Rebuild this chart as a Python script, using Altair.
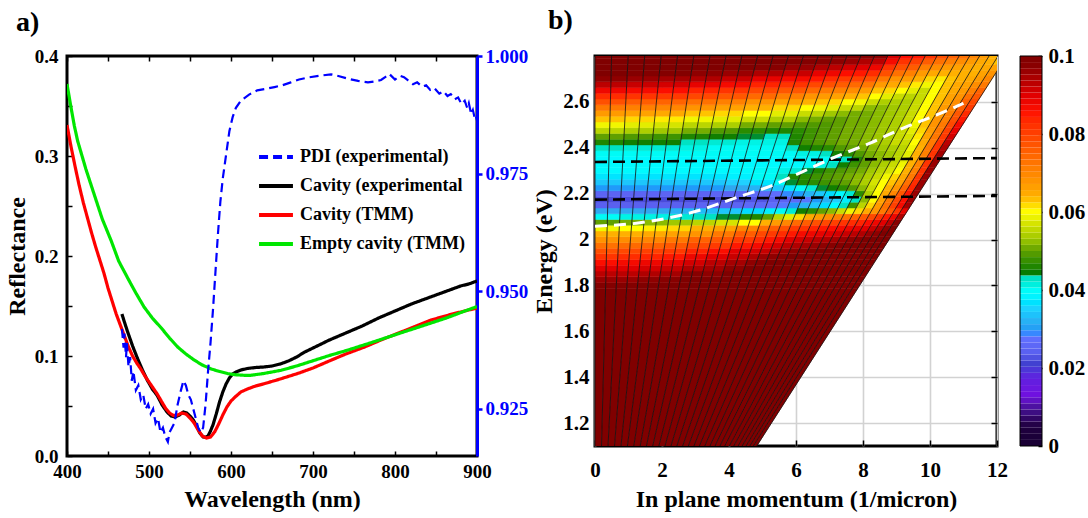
import math
import altair as alt
import pandas as pd

FONT = "Liberation Serif"

# ---------------- panel a) data ----------------
SERIES = ["PDI (experimental)", "Cavity (experimental", "Cavity (TMM)", "Empty cavity (TMM)"]
SERIES_COLORS = ["#0000FF", "#000000", "#FF0000", "#00E600"]

pdi_wl = [467, 469, 470, 472, 473, 475, 477, 479, 481, 484, 487, 490, 493, 496, 499, 502, 505, 508, 511, 514,
          517, 520, 523, 525, 528, 531, 535, 539, 542, 545, 548, 551, 554, 557, 560, 563, 566, 569, 572, 575,
          578, 581, 584, 587, 590, 594, 598, 602, 606, 612, 622, 632, 642, 653, 663, 673, 683, 693, 708, 722,
          732, 742, 755, 767, 775, 783, 788, 793, 800, 806, 811, 816, 822, 827, 833, 838, 843, 848, 854, 859,
          864, 868, 873, 877, 881, 885, 888, 890, 893, 895, 897, 898, 900]
pdi_val = [0.942, 0.938, 0.941, 0.936, 0.939, 0.934, 0.936, 0.931, 0.933, 0.929, 0.930, 0.927, 0.928, 0.925,
           0.926, 0.924, 0.925, 0.922, 0.923, 0.920, 0.921, 0.919, 0.918, 0.920, 0.921, 0.922, 0.926, 0.929,
           0.931, 0.930, 0.928, 0.927, 0.925, 0.923, 0.921, 0.920, 0.921, 0.926, 0.933, 0.939, 0.946, 0.954,
           0.962, 0.969, 0.974, 0.979, 0.984, 0.987, 0.989, 0.9905, 0.9918, 0.9927, 0.9930, 0.9934, 0.9938,
           0.9944, 0.9950, 0.9954, 0.9958, 0.9961, 0.9957, 0.9952, 0.9947, 0.9944, 0.9946, 0.9949, 0.9955,
           0.9962, 0.9950, 0.9958, 0.9955, 0.9948, 0.9940, 0.9944, 0.9935, 0.9938, 0.9928, 0.9932, 0.9920,
           0.9925, 0.9915, 0.9919, 0.9908, 0.9912, 0.9898, 0.9905, 0.9890, 0.9900, 0.9876, 0.9885, 0.9870,
           0.9875, 0.9863]

cav_exp_wl = [467, 470, 474, 480, 486, 492, 498, 504, 510, 516, 522, 527, 532, 537, 542, 546, 550, 554, 558, 562,
              566, 569, 572, 575, 578, 582, 586, 590, 594, 598, 602, 606, 612, 620, 630, 640, 650, 660, 670, 680,
              690, 700, 720, 740, 760, 780, 800, 820, 840, 860, 880, 890, 900]
cav_exp_r = [0.142, 0.134, 0.124, 0.110, 0.0975, 0.086, 0.0757, 0.067, 0.0606, 0.051, 0.044, 0.040, 0.039, 0.041,
             0.044, 0.043, 0.040, 0.036, 0.030, 0.023, 0.019, 0.0188, 0.020, 0.025, 0.031, 0.042, 0.054, 0.064,
             0.072, 0.078, 0.082, 0.084, 0.086, 0.0875, 0.0885, 0.089, 0.090, 0.092, 0.095, 0.099, 0.104, 0.108,
             0.116, 0.123, 0.130, 0.138, 0.145, 0.152, 0.158, 0.164, 0.170, 0.172, 0.175]

cav_tmm_wl = [400, 405, 410, 415, 420, 425, 430, 435, 440, 445, 450, 455, 460, 465, 470, 475, 480, 485, 490, 495,
              500, 505, 510, 515, 520, 525, 530, 535, 540, 545, 550, 555, 560, 565, 570, 575, 580, 585, 590, 595,
              600, 605, 612, 620, 630, 641, 660, 681, 700, 722, 740, 763, 780, 803, 820, 844, 870, 900]
cav_tmm_r = [0.331, 0.309, 0.289, 0.270, 0.253, 0.238, 0.223, 0.209, 0.196, 0.183, 0.168, 0.155, 0.142, 0.131,
             0.120, 0.109, 0.100, 0.093, 0.087, 0.080, 0.074, 0.068, 0.062, 0.055, 0.048, 0.043, 0.0405, 0.041,
             0.043, 0.042, 0.038, 0.033, 0.026, 0.020, 0.018, 0.019, 0.024, 0.032, 0.041, 0.049, 0.055, 0.059,
             0.064, 0.067, 0.070, 0.0724, 0.077, 0.0824, 0.088, 0.0958, 0.102, 0.109, 0.115, 0.1226, 0.128,
             0.136, 0.142, 0.148]

empty_wl = [400, 405, 409, 413, 423, 433, 443, 454, 463, 474, 484, 494, 504, 515, 525, 535, 545, 555, 565, 576,
            586, 596, 606, 616, 624, 640, 661, 680, 702, 720, 742, 762, 783, 803, 824, 844, 864, 882, 900]
empty_r = [0.372, 0.348, 0.330, 0.315, 0.287, 0.262, 0.237, 0.215, 0.195, 0.178, 0.163, 0.149, 0.138, 0.128,
           0.118, 0.109, 0.102, 0.096, 0.091, 0.087, 0.0845, 0.0824, 0.0812, 0.0807, 0.0807, 0.0825, 0.0857,
           0.090, 0.0958, 0.1005, 0.1058, 0.111, 0.1166, 0.122, 0.1276, 0.133, 0.1384, 0.144, 0.1494]

# ---------------- panel b) data ----------------
HC = 0.19733                      # hbar*c in eV*micron (angle -> in-plane momentum)
ANGLES = list(range(0, 61, 2))    # constant-angle mesh lines, degrees
E_ROWS = [round(1.80 + 0.025 * i, 4) for i in range(41)]   # row centres, eV
E_MIN, E_MAX = 1.1, 2.8

# reflectance read per angle column (rows = E_ROWS)
P00 = [.099,.096,.093,.090,.086,.082,.078,.073,.068,.064,.059,.050,.040, .031,.024,.022,.025,.030,.034,.037,.039,.039,.039,.040,.043, .046,.050,.055,.059,.063,.067,.072,.078,.083,.088,.093,.097,.1,.1,.1,.1]
P01 = [.099,.096,.093,.090,.087,.083,.079,.074,.069,.064,.060,.051,.041, .031,.024,.022,.025,.030,.034,.037,.039,.039,.039,.040,.042, .045,.049,.054,.058,.062,.066,.071,.076,.082,.087,.092,.096,.099,.1,.1,.1]
P02 = [.1,.097,.094,.091,.088,.084,.080,.075,.070,.065,.061,.052,.041, .031,.024,.022,.025,.030,.034,.037,.039,.039,.039,.040,.042, .045,.048,.053,.057,.061,.065,.070,.075,.081,.086,.091,.095,.099,.1,.1,.1]
P03 = [.1,.098,.095,.092,.089,.085,.081,.077,.072,.066,.062,.053,.042, .032,.024,.022,.025,.030,.034,.037,.039,.039,.039,.040,.041, .043,.046,.051,.055,.059,.063,.068,.073,.079,.084,.089,.094,.097,.1,.1,.1]
P04 = [.1,.1,.098,.094,.091,.088,.084,.079,.075,.068,.064,.055,.043, .033,.025,.022,.025,.030,.034,.037,.039,.039,.039,.040,.040, .042,.045,.049,.054,.058,.062,.066,.071,.077,.082,.087,.092,.096,.099,.1,.1]
P05 = [.1,.1,.097,.095,.093,.090,.086,.081,.077,.072,.066,.057,.044, .034,.025,.022,.025,.031,.035,.038,.039,.039,.039,.040,.040, .041,.044,.047,.051,.056,.060,.064,.068,.074,.079,.084,.089,.094,.098,.1,.1]
P06 = [.1,.1,.1,.097,.095,.092,.090,.085,.081,.076,.070,.060,.046, .036,.026,.023,.026,.032,.037,.040,.040,.039,.039,.040,.040, .041,.043,.046,.050,.054,.058,.062,.066,.071,.077,.082,.087,.092,.096,.099,.1]
P07 = [.1,.1,.1,.1,.097,.094,.091,.087,.083,.079,.073,.064,.050, .038,.027,.024,.027,.034,.040,.043,.041,.039,.039,.040,.043, .046,.046,.047,.049,.052,.056,.060,.064,.068,.074,.079,.085,.089,.094,.098,.1]
P08 = [.1,.1,.1,.1,.098,.096,.092,.089,.085,.081,.076,.067,.055, .040,.028,.025,.029,.037,.044,.046,.042,.039,.039,.041,.045, .048,.048,.048,.049,.051,.055,.059,.063,.067,.072,.078,.083,.088,.093,.097,.1]
P09 = [.1,.1,.1,.1,.1,.097,.094,.091,.087,.083,.078,.070,.058, .042,.030,.026,.030,.040,.046,.047,.044,.040,.039,.041,.046, .049,.049,.049,.049,.050,.053,.058,.062,.066,.071,.076,.081,.086,.091,.096,.099]
P10 = [.1,.1,.1,.1,.1,.098,.096,.093,.090,.085,.081,.074,.062, .045,.032,.028,.032,.042,.047,.048,.046,.041,.040,.043,.047, .050,.050,.050,.050,.050,.052,.056,.060,.064,.069,.074,.080,.085,.090,.094,.098]
P11 = [.1,.1,.1,.1,.1,.1,.097,.094,.091,.087,.082,.076,.065, .047,.034,.030,.034,.044,.048,.049,.048,.043,.041,.045,.049, .051,.051,.051,.051,.051,.051,.055,.059,.063,.067,.072,.078,.083,.088,.093,.097]
P12 = [.1,.1,.1,.1,.1,.1,.098,.095,.092,.088,.084,.078,.067, .050,.036,.032,.036,.045,.049,.050,.049,.045,.043,.047,.050, .051,.051,.051,.051,.051,.051,.052,.056,.060,.063,.067,.072,.078,.082,.087,.091]
P13 = [.1,.1,.1,.1,.1,.1,.099,.096,.093,.089,.085,.079,.069, .052,.039,.035,.039,.047,.050,.051,.050,.048,.046,.049,.051, .052,.052,.052,.052,.052,.052,.052,.054,.058,.062,.065,.068,.073,.078,.082,.086]
P14 = [.1,.1,.1,.1,.1,.1,.1,.097,.094,.090,.086,.080,.071, .056,.043,.038,.042,.049,.052,.052,.051,.050,.050,.051,.052, .053,.053,.053,.053,.053,.053,.053,.054,.056,.060,.063,.067,.071,.076,.080,.085]
P15 = [.1,.1,.1,.1,.1,.1,.1,.098,.095,.091,.087,.082,.073, .059,.048,.043,.047,.052,.054,.054,.053,.052,.052,.052,.053, .054,.054,.054,.054,.054,.054,.054,.054,.055,.058,.061,.064,.067,.071,.076,.082]
P16 = [.1,.1,.1,.1,.1,.1,.1,.099,.096,.092,.088,.083,.075, .062,.055,.052,.054,.056,.057,.056,.055,.054,.053,.053,.054, .056,.056,.056,.056,.056,.056,.056,.056,.056,.056,.059,.062,.065,.069,.073,.078]
P17 = [.1,.1,.1,.1,.1,.1,.1,.1,.097,.093,.089,.084,.077, .065,.062,.060,.060,.060,.060,.059,.057,.056,.055,.055,.055, .056,.057,.058,.059,.060,.060,.060,.060,.060,.060,.060,.061,.064,.067,.071,.075]
P18 = [.1,.1,.1,.1,.1,.1,.1,.1,.098,.094,.090,.086,.079, .068,.067,.066,.065,.064,.063,.062,.060,.059,.058,.058,.059, .060,.061,.062,.063,.063,.063,.063,.063,.063,.063,.063,.063,.064,.066,.069,.073]
P19 = [.1,.1,.1,.1,.1,.1,.1,.1,.1,.096,.092,.088,.082, .072,.073,.072,.070,.068,.066,.065,.064,.064,.064,.064,.064, .065,.066,.067,.068,.068,.067,.067,.066,.066,.065,.065,.064,.064,.065,.067,.070]
P20 = [.1,.1,.1,.1,.1,.1,.1,.1,.1,.097,.094,.090,.085, .077,.080,.079,.077,.075,.073,.072,.071,.070,.070,.071,.072, .072,.072,.072,.072,.071,.071,.070,.069,.068,.067,.066,.065,.064,.064,.065,.067]
P21 = [.1,.1,.1,.1,.1,.1,.1,.1,.1,.1,.097,.093,.088, .082,.087,.086,.085,.084,.083,.082,.082,.082,.082,.082,.082, .082,.081,.080,.079,.078,.077,.076,.075,.073,.071,.069,.067,.066,.065,.064,.064]
P22 = [.1,.1,.1,.1,.1,.1,.1,.1,.1,.1,.1,.098,.094, .089,.095,.096,.096,.096,.096,.096,.096,.096,.096,.095,.094, .093,.091,.089,.087,.085,.083,.081,.079,.077,.075,.072,.070,.068,.066,.063,.061]
PROFILES = [P00, P01, P02, P03, P04, P05, P06, P07, P08, P09, P10, P11, P12, P13, P14, P15, P16, P17, P18,
            P19, P20, P21, P22]
# which profile each 2-degree strip uses
STRIP_PROFILE = [0, 0, 1, 1, 2, 2, 3, 3, 4, 4, 5, 5, 6, 6, 7, 8, 9, 10, 11, 12, 13, 14, 15, 16, 17, 18, 19,
                 20, 21, 22]

# cavity-photon dispersion (white dashed) and exciton levels (black dashed)
disp_k = [0, 1.34, 2.84, 4.33, 5.22, 6.22, 7.21, 8.21, 9.2, 10.2, 11.0]
disp_E = [2.058, 2.073, 2.116, 2.188, 2.232, 2.297, 2.362, 2.42, 2.486, 2.543, 2.594]
exc_k = [0, 12]
exc1_E = [2.338, 2.355]
exc2_E = [2.174, 2.19]

# colormap (value -> colour)
CMAP_VALUES = [0, 0.005, 0.009, 0.013, 0.0175, 0.021, 0.024, 0.0277, 0.031, 0.035, 0.0395, 0.0432, 0.0442,
               0.047, 0.050, 0.053, 0.0566, 0.060, 0.064, 0.0685, 0.0745, 0.080, 0.0855, 0.090, 0.094, 0.0975, 0.1]
CMAP_COLORS = ["#000000", "#200040", "#40108A", "#7010E0", "#6020E0", "#4040D0", "#5A60F0", "#6070FF",
               "#30A8F0", "#20D0FF", "#00FFFF", "#00E0C0", "#007A00", "#2A8C00", "#60A000", "#A0C800",
               "#D0E000", "#FFFF00", "#FFB000", "#FF9000", "#FF6600", "#FF4000", "#FF1000", "#E00000",
               "#B00000", "#8A0000", "#800000"]
CBAR_TICKS = [0, 0.02, 0.04, 0.06, 0.08, 0.1]
N_LEVELS = 64

# ---------------- build tables ----------------
refl_rows = []
for name, wl, rr in [(SERIES[1], cav_exp_wl, cav_exp_r), (SERIES[2], cav_tmm_wl, cav_tmm_r),
                     (SERIES[3], empty_wl, empty_r)]:
    for w, r in zip(wl, rr):
        refl_rows.append({"wl": w, "R": r, "series": name})
refl_df = pd.DataFrame(refl_rows)
pdi_df = pd.DataFrame({"wl": pdi_wl, "V": pdi_val, "series": SERIES[0]})

heat_rows = []
cid = 0
for s in range(len(STRIP_PROFILE)):
    s0 = math.sin(math.radians(ANGLES[s]))
    s1 = math.sin(math.radians(ANGLES[s + 1]))
    prof = PROFILES[STRIP_PROFILE[s]]
    cells = [(E_MIN, E_ROWS[0] - 0.0125, 0.1)]
    for e, v in zip(E_ROWS, prof):
        cells.append((max(e - 0.0125, E_ROWS[0] - 0.0125), min(e + 0.0125, E_MAX), v))
    for lo, hi, v in cells:
        for e in (lo, hi):
            heat_rows.append({"cell": cid, "E": e, "k0": s0 * e / HC, "k1": s1 * e / HC, "R": v})
        cid += 1
heat_df = pd.DataFrame(heat_rows)

mesh_rows = []
for a in ANGLES:
    sa = math.sin(math.radians(a))
    for e in (E_MIN, E_MAX):
        mesh_rows.append({"ang": a, "E": e, "k": sa * e / HC})
mesh_df = pd.DataFrame(mesh_rows)

disp_df = pd.DataFrame({"k": disp_k, "E": disp_E})
exc_df = pd.DataFrame({"k": exc_k * 2, "E": exc1_E + exc2_E, "lvl": ["up", "up", "lo", "lo"]})

cb_df = pd.DataFrame({
    "lo": [i * 0.1 / N_LEVELS for i in range(N_LEVELS)],
    "hi": [(i + 1) * 0.1 / N_LEVELS for i in range(N_LEVELS)],
    "mid": [(i + 0.5) * 0.1 / N_LEVELS for i in range(N_LEVELS)],
    "c0": [0] * N_LEVELS, "c1": [1] * N_LEVELS})
cb_frame = pd.DataFrame({"lo": [0.0], "hi": [0.1], "c0": [0], "c1": [1]})

# ---------------- panel a ----------------
xa = alt.Scale(domain=[400, 900], nice=False)
ser_color = alt.Scale(domain=SERIES, range=SERIES_COLORS)
ser_dash = alt.Scale(domain=SERIES, range=[[9, 5], [1, 0], [1, 0], [1, 0]])
leg = dict(title=None, orient="none", legendX=190, legendY=82, symbolType="stroke", symbolSize=1150,
           symbolStrokeWidth=4, labelFontSize=18, labelFont=FONT, labelFontWeight="bold", labelLimit=400,
           rowPadding=1, labelOffset=5, labelColor="black")

lines_a = alt.Chart(refl_df).mark_line(strokeWidth=3.2, clip=True).encode(
    x=alt.X("wl:Q", scale=xa, axis=alt.Axis(
        title="Wavelength (nm)", values=list(range(400, 901, 50)),
        labelExpr="datum.value % 100 === 0 ? datum.label : ''", offset=-5, tickSize=5, domain=False,
        grid=False, labelPadding=6, titlePadding=6, labelFlush=False)),
    y=alt.Y("R:Q", scale=alt.Scale(domain=[0, 0.4], nice=False), axis=alt.Axis(
        title="Reflectance", values=[0, 0.05, 0.1, 0.15, 0.2, 0.25, 0.3, 0.35, 0.4],
        labelExpr="round(datum.value * 20) % 2 === 0 ? format(datum.value, '.1f') : ''",
        offset=-5, tickSize=5, domain=False, grid=False, labelPadding=9, titlePadding=5)),
    color=alt.Color("series:N", scale=ser_color, legend=alt.Legend(**leg)),
    strokeDash=alt.StrokeDash("series:N", scale=ser_dash, legend=alt.Legend(**leg)),
)

pdi_a = alt.Chart(pdi_df).mark_line(strokeWidth=2.2, clip=True).encode(
    x=alt.X("wl:Q", scale=xa, axis=alt.Axis(
        orient="top", labels=False, title=None, values=list(range(400, 901, 50)), offset=-5, tickSize=5,
        domain=False, grid=False)),
    y=alt.Y("V:Q", scale=alt.Scale(domain=[0.915, 1.0], nice=False), axis=alt.Axis(
        orient="right", title=None, values=[0.925, 0.95, 0.975, 1.0], format=".3f", domainColor="#0000FF",
        domainWidth=3, tickColor="#0000FF", tickWidth=2.5, tickSize=5, labelColor="#0000FF", labelPadding=3,
        grid=False, labelFontSize=19)),
    color=alt.Color("series:N", scale=ser_color, legend=alt.Legend(**leg)),
    strokeDash=alt.StrokeDash("series:N", scale=ser_dash, legend=alt.Legend(**leg)),
)

panel_a = alt.layer(lines_a, pdi_a).resolve_scale(y="independent").resolve_axis(
    x="independent", y="independent").properties(
    width=410, height=400,
    title=alt.TitleParams("a)", anchor="start", frame="group", dx=-51, offset=-18, fontSize=28, font=FONT,
                          fontWeight="bold", baseline="bottom", color="black"))

# ---------------- panel b ----------------
xb = alt.Scale(domain=[0, 12], nice=False)
yb = alt.Scale(domain=[E_MIN, E_MAX], nice=False)
cmap = alt.Scale(domain=CMAP_VALUES, range=CMAP_COLORS, clamp=True)
GRID = "#D2D2D2"
E_TICKS = [1.2, 1.4, 1.6, 1.8, 2.0, 2.2, 2.4, 2.6]

heat = alt.Chart(heat_df).mark_area(orient="horizontal", clip=True, strokeWidth=0.5).encode(
    x=alt.X("k0:Q", scale=xb, axis=alt.Axis(
        title="In plane momentum (1/micron)", values=[0, 2, 4, 6, 8, 10, 12], format="d", grid=True,
        gridColor=GRID, gridWidth=1.6, domain=False, tickSize=6, offset=-6, labelPadding=13,
        titlePadding=7, labelFontSize=21, labelFlush=False)),
    x2="k1:Q",
    y=alt.Y("E:Q", scale=yb, axis=alt.Axis(
        title="Energy (eV)", values=E_TICKS, format=".1~f", grid=True,
        gridColor=GRID, gridWidth=1.6, domain=False, tickSize=6, offset=-6, labelPadding=6,
        titlePadding=6, labelFontSize=21)),
    detail="cell:N",
    color=alt.Color("R:Q", scale=cmap, legend=None),
    stroke=alt.Stroke("R:Q", scale=cmap, legend=None),
)

mesh = alt.Chart(mesh_df).mark_line(color="#111111", strokeWidth=0.8, clip=True).encode(
    x=alt.X("k:Q", scale=xb, axis=None), y=alt.Y("E:Q", scale=yb, axis=None), detail="ang:N")

exc = alt.Chart(exc_df).mark_line(color="black", strokeWidth=2.6, strokeDash=[12, 6], clip=True).encode(
    x=alt.X("k:Q", scale=xb, axis=None),
    y=alt.Y("E:Q", scale=yb, axis=alt.Axis(
        orient="right", labels=False, title=None, values=E_TICKS,
        domain=False, grid=False, tickSize=6, offset=-6)),
    detail="lvl:N")

disp = alt.Chart(disp_df).mark_line(color="white", strokeWidth=3, strokeDash=[12, 7], clip=True,
                                    interpolate="monotone").encode(
    x=alt.X("k:Q", scale=xb, axis=None), y=alt.Y("E:Q", scale=yb, axis=None))

cb_x = alt.Scale(domain=[0, 1], range=[425, 447])
cb_y = alt.Scale(domain=[0, 0.1], nice=False)
cbar = alt.Chart(cb_df).mark_rect().encode(
    x=alt.X("c0:Q", scale=cb_x, axis=None), x2="c1:Q",
    y=alt.Y("lo:Q", scale=cb_y, axis=alt.Axis(
        orient="right", offset=41, tickSize=4, values=CBAR_TICKS, format=".2~f", domain=False, grid=False,
        title=None, labelPadding=6, labelFontSize=21, labelFlush=False)),
    y2="hi:Q",
    color=alt.Color("mid:Q", scale=cmap, legend=None))
cbar_frame = alt.Chart(cb_frame).mark_rect(fillOpacity=0, stroke="black", strokeWidth=1).encode(
    x=alt.X("c0:Q", scale=cb_x, axis=None), x2="c1:Q",
    y=alt.Y("lo:Q", scale=cb_y, axis=None), y2="hi:Q")

panel_b = alt.layer(heat, mesh, exc, disp, cbar, cbar_frame).resolve_scale(
    x="independent", y="independent").properties(
    width=402, height=390,
    title=alt.TitleParams("b)", anchor="start", frame="group", dx=-47, offset=-18, fontSize=28, font=FONT,
                          fontWeight="bold", baseline="bottom", color="black"))

chart = alt.hconcat(panel_a, panel_b, spacing=1).resolve_scale(
    color="independent", strokeDash="independent").properties(
    padding={"left": 3, "top": 5, "right": 0, "bottom": 0}
).configure(font=FONT).configure_view(stroke="black", strokeWidth=3).configure_axis(
    labelFont=FONT, titleFont=FONT, labelFontWeight="bold", titleFontWeight="bold", labelColor="black",
    titleColor="black", tickColor="black", labelFontSize=19, titleFontSize=24, tickWidth=1.5)

chart.save("out.html", embed_options={"renderer": "svg", "actions": False})
